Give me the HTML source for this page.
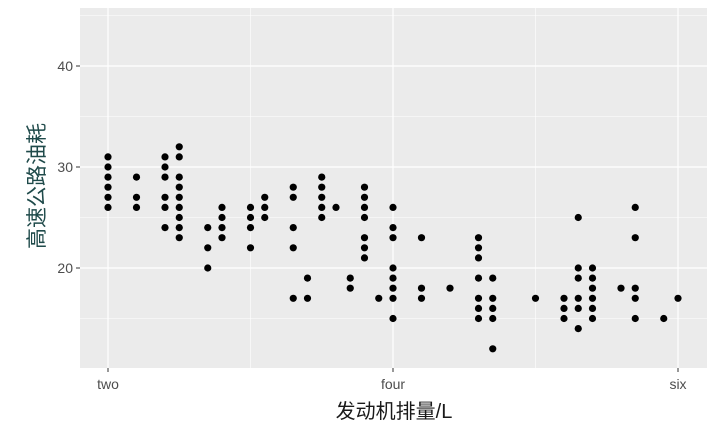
<!DOCTYPE html>
<html><head><meta charset="utf-8"><style>
body{margin:0;background:#fff;}
svg text{font-family:"Liberation Sans","Noto Sans CJK SC",sans-serif;}
</style></head><body>
<svg id="chart" width="721" height="432" xmlns="http://www.w3.org/2000/svg">
<rect x="80" y="8" width="627" height="360" fill="#ebebeb"/>
<g id="grid"></g><g id="pts"></g><g id="axes"></g>
<text x="394" y="418" text-anchor="middle" font-size="20" fill="#1a1a1a">发动机排量/L</text>
<text transform="translate(44,186) rotate(-90)" text-anchor="middle" font-size="21" fill="#1f4a4a">高速公路油耗</text>
</svg>
<script>
const displ=[2.0,2.2,2.4,2.5,2.7,2.8,3.0,3.1,3.3,3.4,3.5,3.6,3.7,3.8,3.9,4.0,4.2,4.4,4.6,4.7,5.0,5.2,5.3,5.4,5.6,5.7,5.9,6.0];
const hwy=[[26,27,28,29,30,31],[29,27,26],[31,30,29,27,26,24],[32,31,29,28,27,26,25,24,23],[24,22,20],[26,25,24,23],[26,25,24,22],[27,26,25],[28,27,24,22,17],[19,17],[29,28,27,26,25],[26],[19,18],[28,27,26,25,23,22,21],[17],[26,24,23,20,19,18,17,15],[23,18,17],[18],[23,22,21,19,17,16,15],[19,17,16,15,12],[17],[17,16,15],[25,20,19,17,16,14],[20,19,18,17,16,15],[18],[26,23,18,17,15],[15],[17]];
const xBreaks=[2,4,6], xLabels=["two","four","six"], xMinor=[3,5];
const yBreaks=[20,30,40], yMinor=[15,25,35,45];
const X=v=>108+(v-2)*142.5, Y=v=>268-(v-20)*10.1;
const NS="http://www.w3.org/2000/svg";
function mk(p,t,a){const e=document.createElementNS(NS,t);for(const k in a)e.setAttribute(k,a[k]);p.appendChild(e);return e;}
const g=document.getElementById('grid'),ax=document.getElementById('axes'),pts=document.getElementById('pts');
xMinor.forEach(v=>{const l=mk(g,'line',{x1:X(v),x2:X(v),y1:8,y2:368,stroke:'#fff','stroke-width':0.6});

});
yMinor.forEach(v=>{const l=mk(g,'line',{x1:80,x2:707,y1:Y(v),y2:Y(v),stroke:'#fff','stroke-width':0.6});

});
xBreaks.forEach((v,i)=>{const l=mk(g,'line',{x1:X(v),x2:X(v),y1:8,y2:368,stroke:'#fff','stroke-width':1.2});


const t=mk(ax,'line',{x1:X(v),x2:X(v),y1:368,y2:372,stroke:'#333'});


const tx=mk(ax,'text',{x:X(v),y:389,'text-anchor':'middle','font-size':14,fill:'#4d4d4d'});tx.textContent=xLabels[i];

});
yBreaks.forEach(v=>{const l=mk(g,'line',{x1:80,x2:707,y1:Y(v),y2:Y(v),stroke:'#fff','stroke-width':1.2});


const t=mk(ax,'line',{x1:76,x2:80,y1:Y(v),y2:Y(v),stroke:'#333'});


const tx=mk(ax,'text',{x:73,y:Y(v)+5,'text-anchor':'end','font-size':14,fill:'#4d4d4d'});tx.textContent=v;

});
displ.forEach((d,i)=>hwy[i].forEach(h=>{const c=mk(pts,'circle',{cx:X(d),cy:Y(h),r:3.6,fill:'#000'});

}));
</script>
</body></html>
